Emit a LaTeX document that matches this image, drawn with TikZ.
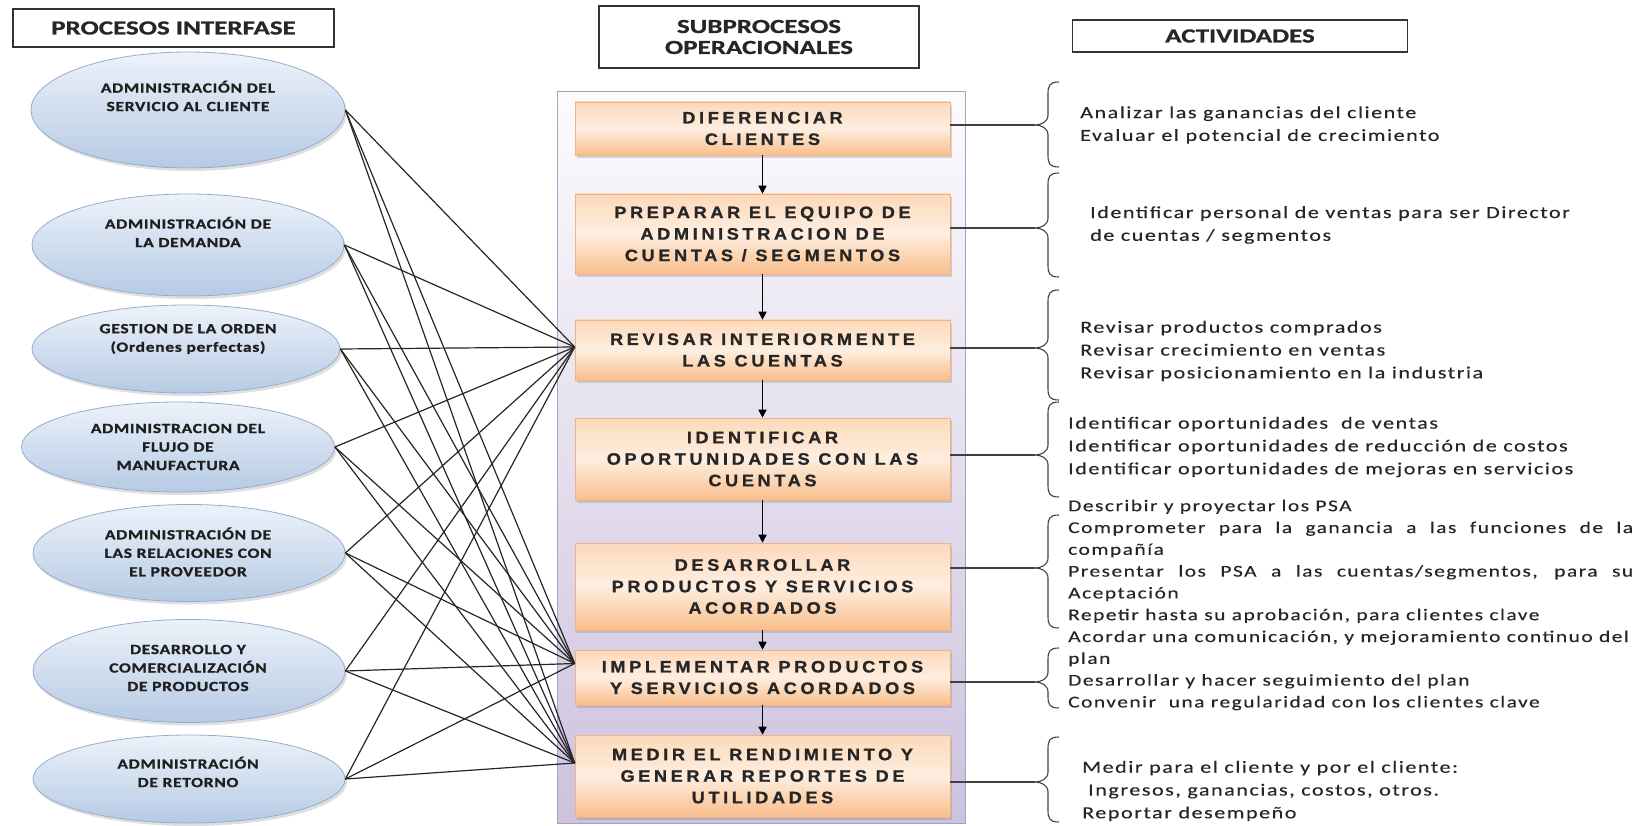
\documentclass[tikz,border=0pt]{standalone}
\usepackage{fontspec}
\usetikzlibrary{shapes.geometric,arrows.meta,shadows,calc}
\newfontfamily\hdrfont{Carlito}[FakeStretch=1.35,BoldFeatures={FakeBold=0.8}]
\newfontfamily\ellfont{Carlito}[FakeStretch=1.25,LetterSpace=5,BoldFeatures={FakeBold=1.2}]
\newfontfamily\boxfont{Liberation Sans}[FakeStretch=1.1,LetterSpace=22,BoldFeatures={FakeBold=1}]
\newfontfamily\actfont{Carlito}[FakeStretch=1.3,LetterSpace=9,FakeBold=0.3]
\definecolor{ellTop}{RGB}{236,242,250}
\definecolor{ellBot}{RGB}{182,202,228}
\definecolor{ellLine}{RGB}{150,172,204}
\definecolor{panTop}{RGB}{252,251,254}
\definecolor{panBot}{RGB}{205,194,222}
\definecolor{panLine}{RGB}{170,160,190}
\definecolor{boxTop}{RGB}{252,217,186}
\definecolor{boxMid}{RGB}{254,238,224}
\definecolor{boxBot}{RGB}{249,190,140}
\definecolor{boxLine}{RGB}{240,180,130}
\newcommand\mybrace[4]{%
 \draw[brc] (#1+24,#2) .. controls (#1+14,#2) and (#1+13,#2+4) .. (#1+13,#2+12)
   -- (#1+13,#3-10) .. controls (#1+13,#3-3) and (#1+6,#3) .. (#1,#3)
   .. controls (#1+6,#3) and (#1+13,#3+3) .. (#1+13,#3+10)
   -- (#1+13,#4-12) .. controls (#1+13,#4-4) and (#1+14,#4) .. (#1+24,#4);}
\begin{document}
\begin{tikzpicture}[x=1pt,y=-1pt,
  hdr/.style={draw=black!80, line width=1.3pt, fill=white, inner sep=0pt,
    font=\hdrfont\bfseries\fontsize{20}{21}\selectfont, text=black!85, align=center},
  ell/.style={ellipse, draw=ellLine, line width=0.8pt, top color=ellTop, bottom color=ellBot,
    inner sep=0pt, drop shadow={shadow xshift=2pt, shadow yshift=-3pt, opacity=0.25}},
  etext/.style={font=\ellfont\bfseries\fontsize{14}{18.5}\selectfont, text=black!88, align=center},
  panel/.style={draw=panLine, line width=1pt, top color=panTop, bottom color=panBot, inner sep=0pt},
  sbox/.style={draw=boxLine, line width=0.6pt, top color=boxTop, bottom color=boxBot, middle color=boxMid,
    inner sep=0pt, minimum width=375pt,
    drop shadow={shadow xshift=2pt, shadow yshift=-3pt, opacity=0.3},
    font=\boxfont\bfseries\fontsize{16.5}{21.5}\selectfont, text=black!85, align=center},
  flow/.style={-{Triangle[length=8pt,width=8pt]}, line width=1.6pt, black},
  link/.style={line width=1.2pt, black!85},
  brc/.style={line width=1.1pt, black!75},
  act/.style={font=\actfont\fontsize{17}{22.8}\selectfont, text=black!85, align=left, inner sep=0pt, anchor=west},
]
\useasboundingbox (0,0) rectangle (1644,826);
% headers
\node[hdr, minimum width=321pt, minimum height=38pt] (h1) at (173.5,28) {PROCESOS INTERFASE};
\node[hdr, minimum width=320pt, minimum height=62pt] (h2) at (759,37) {SUBPROCESOS\\OPERACIONALES};
\node[hdr, minimum width=335pt, minimum height=32pt] (h3) at (1240,36) {ACTIVIDADES};
% panel
\node[panel, minimum width=408pt, minimum height=731pt] (pan) at (761,457.5) {};
% boxes
\node[sbox, minimum height=53pt] (b1) at (762.5,128.5) {DIFERENCIAR\\CLIENTES};
\node[sbox, minimum height=80pt] (b2) at (762.5,234) {PREPARAR EL EQUIPO DE\\ADMINISTRACION DE\\CUENTAS / SEGMENTOS};
\node[sbox, minimum height=60pt] (b3) at (762.5,350) {REVISAR INTERIORMENTE\\LAS CUENTAS};
\node[sbox, minimum height=82pt] (b4) at (762.5,459) {IDENTIFICAR\\OPORTUNIDADES CON LAS\\CUENTAS};
\node[sbox, minimum height=87pt] (b5) at (762.5,586.5) {DESARROLLAR\\PRODUCTOS Y SERVICIOS\\ACORDADOS};
\node[sbox, minimum height=55pt] (b6) at (762.5,677.5) {IMPLEMENTAR PRODUCTOS\\Y SERVICIOS ACORDADOS};
\node[sbox, minimum height=82pt] (b7) at (762.5,776) {MEDIR EL RENDIMIENTO Y\\GENERAR REPORTES DE\\UTILIDADES};
\draw[flow] (b1.south) -- (b2.north);
\draw[flow] (b2.south) -- (b3.north);
\draw[flow] (b3.south) -- (b4.north);
\draw[flow] (b4.south) -- (b5.north);
\draw[flow] (b5.south) -- (b6.north);
\draw[flow] (b6.south) -- (b7.north);
% ellipses
\node[ell, minimum width=314pt, minimum height=116pt] (e1) at (188,110) {};
\node[ell, minimum width=312pt, minimum height=102pt] (e2) at (188,245) {};
\node[ell, minimum width=308pt, minimum height=88pt] (e3) at (186,349) {};
\node[ell, minimum width=313pt, minimum height=90pt] (e4) at (178,447) {};
\node[ell, minimum width=312pt, minimum height=97pt] (e5) at (189,553) {};
\node[ell, minimum width=312pt, minimum height=103pt] (e6) at (189,671) {};
\node[ell, minimum width=312pt, minimum height=88pt] (e7) at (189,779) {};
\node[etext] (l1) at (188,96) {ADMINISTRACIÓN DEL\\SERVICIO AL CLIENTE};
\node[etext] (l2) at (188,232) {ADMINISTRACIÓN DE\\LA DEMANDA};
\node[etext] (l3) at (188,339) {GESTION DE LA ORDEN\\(Ordenes perfectas)};
\node[etext] (l4) at (178,447) {ADMINISTRACION DEL\\FLUJO DE\\MANUFACTURA};
\node[etext] (l5) at (188,552) {ADMINISTRACIÓN DE\\LAS RELACIONES CON\\EL PROVEEDOR};
\node[etext] (l6) at (188,668) {DESARROLLO Y\\COMERCIALIZACIÓN\\DE PRODUCTOS};
\node[etext] (l7) at (188,772) {ADMINISTRACIÓN\\DE RETORNO};
% link targets
\coordinate (tR) at ($(b3.west)+(0,-3)$);
\coordinate (tI) at ($(b6.west)+(0,-14)$);
\coordinate (tM) at ($(b7.west)+(0,-13)$);
\foreach \e in {e1,e2,e3,e4,e5,e6,e7}{
  \foreach \t in {tR,tI,tM}{\draw[link] (\e.east) -- (\t);}
}
% braces and their connectors
\coordinate (k1) at (1035,125);
\coordinate (k2) at (1035,228);
\coordinate (k3) at (1035,348);
\coordinate (k4) at (1035,455);
\coordinate (k5) at (1035,568);
\coordinate (k6) at (1035,682);
\coordinate (k7) at (1035,782);
\draw[brc] (k1 -| b1.east) -- (k1);
\draw[brc] (k2 -| b2.east) -- (k2);
\draw[brc] (k3 -| b3.east) -- (k3);
\draw[brc] (k4 -| b4.east) -- (k4);
\draw[brc] (k5 -| b5.east) -- (k5);
\draw[brc] (k6 -| b6.east) -- (k6);
\draw[brc] (k7 -| b7.east) -- (k7);
\mybrace{1035}{82}{125}{167}
\mybrace{1035}{173}{228}{277}
\mybrace{1035}{290}{348}{400}
\mybrace{1035}{402}{455}{497}
\mybrace{1035}{515}{568}{628}
\mybrace{1035}{648}{682}{708}
\mybrace{1035}{737}{782}{822}
% activities
\node[act] (a1) at (1080,125) {Analizar las ganancias del cliente\\Evaluar el potencial de crecimiento};
\node[act] (a2) at (1090,225) {Identificar personal de ventas para ser Director\\de cuentas / segmentos};
\node[act] (a3) at (1080,351) {Revisar productos comprados\\Revisar crecimiento en ventas\\Revisar posicionamiento en la industria};
\node[act] (a4) at (1068,447) {Identificar oportunidades\ \ de ventas\\Identificar oportunidades de reducción de costos\\Identificar oportunidades de mejoras en servicios};
\node[act, font=\actfont\fontsize{16.5}{21.8}\selectfont] (a5) at (1068,605) {Describir y proyectar los PSA\\
\makebox[565pt][s]{Comprometer para la ganancia a las funciones de la}\\
compañía\\
\makebox[565pt][s]{Presentar los PSA a las cuentas/segmentos, para su}\\
Aceptación\\
Repetir hasta su aprobación, para clientes clave\\
Acordar una comunicación, y mejoramiento continuo del\\
plan\\
Desarrollar y hacer seguimiento del plan\\
Convenir\ \ una regularidad con los clientes clave};
\node[act] (a7) at (1082,791) {Medir para el cliente y por el cliente:\\\hspace*{6pt}Ingresos, ganancias, costos, otros.\\Reportar desempeño};
\end{tikzpicture}
\end{document}
